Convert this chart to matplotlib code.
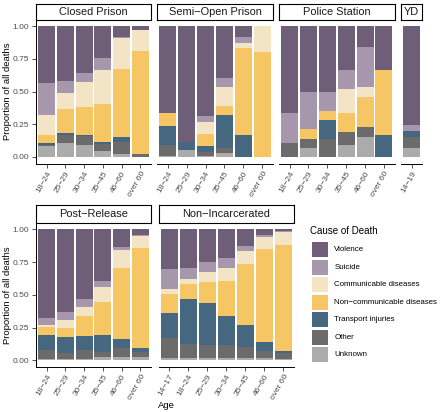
"""
Stacked cause-of-death proportions by age group, one panel per custody setting.
Writes out.png (440x412 px).
"""

import matplotlib

matplotlib.use("Agg")
import matplotlib.pyplot as plt
from matplotlib.patches import Rectangle

plt.rcParams["font.family"] = ["Liberation Sans", "DejaVu Sans"]

W, H = 440, 412

# legend order (top of stack first)
CAUSES = [
    "Violence",
    "Suicide",
    "Communicable diseases",
    "Non\u2212communicable diseases",
    "Transport injuries",
    "Other",
    "Unknown",
]
COLORS = ["#6F5E78", "#A697AD", "#F3E4C5", "#F5C663", "#45677F", "#6B6B6B", "#ABABAB"]

AGES_ADULT = ["18\u221224", "25\u221229", "30\u221234", "35\u221245", "46\u221260", "over 60"]
AGES_YD = ["14\u221219"]
AGES_NONINC = ["14\u221217"] + AGES_ADULT

# rows follow CAUSES, columns follow the age groups
CLOSED_PRISON = [
    [0.434, 0.418, 0.355, 0.247, 0.082, 0.028],
    [0.246, 0.092, 0.074, 0.085, 0.012, 0.003],
    [0.152, 0.125, 0.188, 0.260, 0.236, 0.158],
    [0.063, 0.181, 0.216, 0.292, 0.518, 0.786],
    [0.013, 0.013, 0.005, 0.017, 0.037, 0.000],
    [0.012, 0.067, 0.070, 0.051, 0.095, 0.022],
    [0.080, 0.104, 0.092, 0.048, 0.020, 0.003],
]
SEMI_OPEN = [
    [0.668, 0.886, 0.689, 0.395, 0.082, 0.000],
    [0.000, 0.000, 0.042, 0.074, 0.046, 0.000],
    [0.000, 0.000, 0.092, 0.143, 0.038, 0.202],
    [0.096, 0.000, 0.090, 0.069, 0.667, 0.798],
    [0.146, 0.058, 0.049, 0.254, 0.167, 0.000],
    [0.085, 0.000, 0.028, 0.032, 0.000, 0.000],
    [0.005, 0.056, 0.010, 0.033, 0.000, 0.000],
]
POLICE = [
    [0.668, 0.503, 0.503, 0.337, 0.158, 0.337],
    [0.224, 0.285, 0.145, 0.143, 0.306, 0.000],
    [0.000, 0.000, 0.000, 0.188, 0.077, 0.000],
    [0.000, 0.074, 0.072, 0.145, 0.230, 0.498],
    [0.000, 0.000, 0.141, 0.000, 0.000, 0.165],
    [0.108, 0.069, 0.139, 0.094, 0.075, 0.000],
    [0.000, 0.069, 0.000, 0.093, 0.154, 0.000],
]
YD = [[0.757], [0.047], [0.0], [0.0], [0.044], [0.087], [0.065]]
POST_RELEASE = [
    [0.680, 0.631, 0.534, 0.394, 0.137, 0.045],
    [0.050, 0.061, 0.056, 0.044, 0.021, 0.003],
    [0.013, 0.064, 0.072, 0.114, 0.135, 0.092],
    [0.064, 0.064, 0.150, 0.255, 0.547, 0.768],
    [0.114, 0.122, 0.109, 0.127, 0.068, 0.026],
    [0.071, 0.050, 0.069, 0.043, 0.064, 0.038],
    [0.008, 0.008, 0.010, 0.023, 0.028, 0.028],
]
NON_INCARCERATED = [
    [0.305, 0.298, 0.249, 0.216, 0.127, 0.043, 0.010],
    [0.148, 0.084, 0.074, 0.082, 0.038, 0.013, 0.008],
    [0.043, 0.038, 0.077, 0.094, 0.102, 0.092, 0.102],
    [0.140, 0.114, 0.160, 0.268, 0.463, 0.715, 0.806],
    [0.194, 0.340, 0.326, 0.226, 0.170, 0.068, 0.021],
    [0.150, 0.106, 0.094, 0.094, 0.080, 0.054, 0.043],
    [0.020, 0.020, 0.020, 0.020, 0.020, 0.015, 0.010],
]

# (title, ages, data, left, right, strip_top, strip_bottom, panel_bottom, y axis shown)
PANELS = [
    ("Closed Prison", AGES_ADULT, CLOSED_PRISON, 36, 151, 4, 19.5, 163.5, True),
    ("Semi\u2212Open Prison", AGES_ADULT, SEMI_OPEN, 157, 273, 4, 19.5, 163.5, False),
    ("Police Station", AGES_ADULT, POLICE, 279, 394.5, 4, 19.5, 163.5, False),
    ("YD", AGES_YD, YD, 401, 422, 4, 19.5, 163.5, False),
    ("Post\u2212Release", AGES_ADULT, POST_RELEASE, 36, 151, 204.8, 222.8, 366.8, True),
    ("Non\u2212Incarcerated", AGES_NONINC, NON_INCARCERATED, 158.5, 294, 204.8, 222.8, 366.8, False),
]

TICK_COLOR = "#4D4D4D"
TICK_SIZE = 6.0


def px_axes(fig, left, top, right, bottom):
    # pixel box measured from the top-left corner
    return fig.add_axes([left / W, 1 - bottom / H, (right - left) / W, (bottom - top) / H])


def draw_panel(fig, title, ages, data, left, right, s_top, s_bot, p_bot, show_y):
    ax = px_axes(fig, left, s_bot, right, p_bot)
    x = list(range(len(ages)))
    bottom = [0.0] * len(ages)
    # stack from the bottom of the legend upwards
    for vals, color in zip(reversed(data), reversed(COLORS)):
        ax.bar(x, vals, width=0.9, bottom=bottom, color=color, linewidth=0)
        bottom = [b + v for b, v in zip(bottom, vals)]

    ax.set_xlim(-0.56, len(ages) - 0.44)
    ax.set_ylim(-0.05, 1.05)
    ax.set_xticks(x)
    ax.set_xticklabels(ages, rotation=60, ha="right", va="top",
                       rotation_mode="anchor", fontsize=TICK_SIZE, color=TICK_COLOR)
    for side in ("top", "right"):
        ax.spines[side].set_visible(False)
    ax.spines["bottom"].set_linewidth(0.7)
    ax.spines["left"].set_linewidth(0.7)
    ax.tick_params(axis="both", length=2.8, width=0.6, color="#333333", pad=2.0)
    if show_y:
        ax.set_yticks([0, 0.25, 0.5, 0.75, 1.0])
        ax.set_yticklabels(["0.00", "0.25", "0.50", "0.75", "1.00"],
                           fontsize=TICK_SIZE, color=TICK_COLOR)
    else:
        ax.spines["left"].set_visible(False)
        ax.set_yticks([])

    # facet strip
    sx = px_axes(fig, left, s_top, right, s_bot)
    sx.set_xticks([])
    sx.set_yticks([])
    for sp in sx.spines.values():
        sp.set_linewidth(0.8)
    sx.text(0.5, 0.5, title, ha="center", va="center", fontsize=7.9,
            color="#1A1A1A", transform=sx.transAxes)


def draw_legend(fig):
    ax = px_axes(fig, 300, 220, 440, 365)
    ax.set_xlim(300, 440)
    ax.set_ylim(365, 220)
    ax.axis("off")
    ax.text(310, 231, "Cause of Death", fontsize=7.0, va="center", ha="left")
    for i, (cause, color) in enumerate(zip(CAUSES, COLORS)):
        cy = 249.8 + 17.5 * i
        ax.add_patch(Rectangle((311.7, cy - 7.5), 16.6, 15, color=color, linewidth=0))
        ax.text(334.3, cy, cause, fontsize=5.7, va="center", ha="left")


def main():
    fig = plt.figure(figsize=(W / 100, H / 100), dpi=100)

    for p in PANELS:
        draw_panel(fig, *p)

    draw_legend(fig)

    fig.text(7.5 / W, 1 - 91.5 / H, "Proportion of all deaths", rotation=90,
             ha="center", va="center", fontsize=6.8)
    fig.text(7.5 / W, 1 - 294.8 / H, "Proportion of all deaths", rotation=90,
             ha="center", va="center", fontsize=6.8)
    fig.text(166 / W, 1 - 406 / H, "Age", ha="center", va="center", fontsize=6.8)

    fig.savefig("out.png", dpi=100)
    plt.close(fig)


if __name__ == "__main__":
    main()
